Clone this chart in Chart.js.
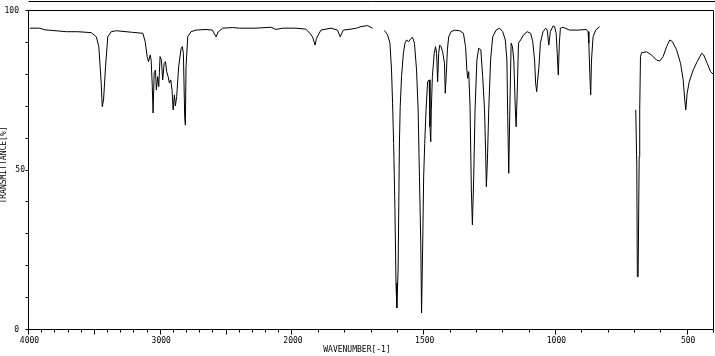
<!DOCTYPE html>
<html>
<head>
<meta charset="utf-8">
<script src="https://cdn.jsdelivr.net/npm/chart.js@4"></script>
<style>
  html, body { margin: 0; padding: 0; background: #fff; }
  #ir { display: block; }
</style>
</head>
<body>
<canvas id="ir" width="715" height="356"></canvas>
<script>
// IR spectrum, wavenumber (cm-1) vs transmittance (%), null = no data
const wavenumbers = [
  3995, 3919, 3881, 3717, 3631, 3527, 3489, 3470, 3452, 3444, 3434, 3419, 3402, 3376, 3338,
  3214, 3136, 3118, 3103, 3093, 3080, 3073, 3065, 3058, 3050, 3040, 3033, 3023, 3015, 3005,
  2995, 2985, 2974, 2964, 2955, 2944, 2934, 2924, 2914, 2906, 2896, 2889, 2879, 2864, 2845,
  2836, 2828, 2818, 2813, 2808, 2795, 2770, 2732, 2656, 2608, 2580, 2563, 2530, 2455, 2404,
  2353, 2277, 2164, 2126, 2076, 1987, 1949, 1934, 1924, 1914, 1909, 1892, 1854, 1829, 1819,
  1807, 1778, 1757, 1740, 1715, 1696,
  1675,
  1651, 1639, 1630, 1624, 1620, 1616, 1611, 1607, 1604, 1599, 1594, 1591, 1586, 1579, 1573,
  1567, 1559, 1550, 1544, 1537, 1529, 1523, 1518, 1513, 1510, 1506, 1502, 1498, 1493, 1487,
  1481, 1478, 1475, 1473, 1469, 1462, 1457, 1453, 1449, 1445, 1441, 1436, 1430, 1423, 1420,
  1416, 1412, 1407, 1398, 1385, 1366, 1351, 1343, 1338, 1335, 1331, 1326, 1321, 1317, 1312,
  1307, 1300, 1293, 1285, 1278, 1271, 1267, 1264, 1260, 1255, 1248, 1240, 1227, 1214, 1202,
  1192, 1186, 1183, 1179, 1175, 1170, 1165, 1160, 1154, 1151, 1147, 1142, 1134, 1123, 1109,
  1096, 1088, 1081, 1077, 1073, 1070, 1065, 1059, 1049, 1039, 1033, 1027, 1021, 1011, 1005,
  999, 995, 991, 987, 983, 973, 948, 916, 884, 878, 875, 871, 868, 865, 859, 849, 834,
  760,
  697, 693, 691, 688, 684, 682, 679, 675, 656, 637, 618, 606, 593, 580, 568, 558, 542, 527,
  517, 511, 507, 502, 494, 479, 464, 447, 439, 426, 413, 400
];
const transmittance = [
  94.3, 94.3, 93.8, 93.2, 93.2, 92.9, 91.6, 88.5, 77.1, 69.7, 71.8, 82.2, 91.6, 93.2, 93.5,
  93.0, 92.7, 90.1, 85.4, 83.8, 85.9, 84.3, 77.1, 67.7, 80.3, 81.2, 74.9, 79.1, 76.0, 85.4,
  84.3, 78.1, 83.3, 83.8, 80.7, 79.1, 77.1, 78.1, 74.9, 68.7, 73.4, 69.9, 72.8, 82.2, 88.0,
  88.5, 86.4, 66.5, 63.9, 82.2, 91.6, 93.2, 93.7, 93.9, 93.7, 91.6, 93.2, 94.3, 94.5, 94.3,
  94.3, 94.3, 94.6, 93.9, 94.3, 94.3, 94.0, 92.7, 91.6, 89.0, 91.1, 93.7, 94.3, 93.7, 91.6,
  93.7, 94.0, 94.3, 94.8, 95.1, 94.3,
  null,
  93.6, 92.2, 89.6, 81.2, 70.8, 58.2, 37.3, 14.4, 6.6, 18.5, 58.3, 69.7, 79.1, 86.4, 89.6,
  90.6, 90.1, 91.1, 91.4, 89.6, 81.2, 68.7, 47.7, 27.0, 5.0, 24.8, 47.7, 58.2, 68.7, 77.5,
  78.1, 63.4, 58.7, 68.7, 79.1, 86.4, 88.5, 86.4, 77.5, 86.4, 89.0, 88.5, 86.9, 83.3, 73.9,
  80.2, 87.5, 91.6, 93.2, 93.7, 93.5, 92.7, 88.5, 81.2, 78.6, 80.7, 69.7, 43.6, 32.6, 47.7,
  68.7, 84.3, 88.0, 87.5, 79.1, 68.7, 56.1, 44.6, 53.0, 68.7, 84.3, 91.6, 93.7, 94.3, 93.2,
  90.6, 84.3, 66.6, 48.8, 68.7, 89.6, 88.5, 84.3, 68.7, 63.4, 73.9, 89.6, 90.6, 92.2, 93.2,
  92.7, 90.1, 84.3, 77.0, 74.4, 77.5, 81.7, 89.6, 93.2, 94.3, 93.7, 89.0, 93.2, 95.0, 94.8,
  92.7, 86.4, 79.6, 89.6, 94.3, 94.6, 93.7, 93.7, 93.9, 93.2, 89.6, 79.1, 73.4, 84.3, 91.6, 93.7, 94.8,
  null,
  68.7, 50.9, 16.4, 16.4, 54.0, 68.7, 85.4, 86.6, 86.9, 85.9, 84.3, 84.0, 85.4, 88.5, 90.6, 90.1, 87.5, 83.3,
  78.1, 71.8, 68.7, 73.9, 77.5, 81.2, 83.8, 86.4, 85.9, 83.3, 80.7, 79.6
];
const xTickLabels = [4000, 3000, 2000, 1500, 1000, 500];
const yTickLabels = [0, 50, 100];

// axis is compressed 2:1 above 2000 cm-1
function toAxis(w) {
  return w >= 2000 ? 4000 - w : 2000 + 2 * (2000 - w);
}

const points = wavenumbers.map((w, i) => ({ x: toAxis(w), y: transmittance[i] }));
const FONT = '8px "DejaVu Sans Mono"';

const frame = {
  id: 'frame',
  afterDraw(chart) {
    const c = chart.ctx, a = chart.chartArea;
    const xs = chart.scales.x, ys = chart.scales.y;
    const L = Math.round(a.left) - 0.5, R = Math.round(a.right) - 0.5;
    const T = Math.round(a.top) + 0.5, B = Math.round(a.bottom) + 0.5;
    c.save();
    c.strokeStyle = '#000';
    c.fillStyle = '#000';
    c.lineWidth = 1;
    c.beginPath();
    c.moveTo(L, 1.5); c.lineTo(715, 1.5);
    c.moveTo(L, T); c.lineTo(R, T); c.lineTo(R, B); c.lineTo(L, B); c.closePath();
    // y ticks every 10 %
    for (let v = 0; v <= 100; v += 10) {
      const py = Math.round(ys.getPixelForValue(v)) + 0.5;
      c.moveTo(L - 3, py); c.lineTo(L, py);
    }
    // x ticks every 100 cm-1
    for (let w = 4000; w >= 400; w -= 100) {
      const px = Math.round(xs.getPixelForValue(toAxis(w))) - 0.5;
      c.moveTo(px, B); c.lineTo(px, B + (w % 500 === 0 ? 5 : 3));
    }
    c.stroke();

    c.font = FONT;
    c.textBaseline = 'middle';
    c.textAlign = 'center';
    xTickLabels.forEach(w => {
      c.fillText(String(w), xs.getPixelForValue(toAxis(w)) + 0.5, B + 11);
    });
    c.fillText('WAVENUMBER[-1]', 357, 350);
    c.textAlign = 'right';
    yTickLabels.forEach(v => {
      const px = v === 50 ? 25 : 19;
      c.fillText(String(v), px, ys.getPixelForValue(v) + 0.5);
    });
    c.translate(4, 165);
    c.rotate(-Math.PI / 2);
    c.textAlign = 'center';
    c.fillText('TRANSMITTANCE[%]', 0, 0);
    c.restore();
  }
};

new Chart(document.getElementById('ir'), {
  type: 'line',
  data: {
    datasets: [{
      data: points,
      borderColor: '#000',
      borderWidth: 1,
      pointRadius: 0,
      tension: 0,
      spanGaps: false
    }]
  },
  options: {
    responsive: false,
    animation: false,
    devicePixelRatio: 1,
    layout: { padding: { left: 29, right: 1, top: 10, bottom: 27 } },
    plugins: { legend: { display: false }, tooltip: { enabled: false } },
    scales: {
      x: { type: 'linear', min: 0, max: 5200, display: false },
      y: { min: 0, max: 100, display: false }
    }
  },
  plugins: [frame]
});
</script>
</body>
</html>
